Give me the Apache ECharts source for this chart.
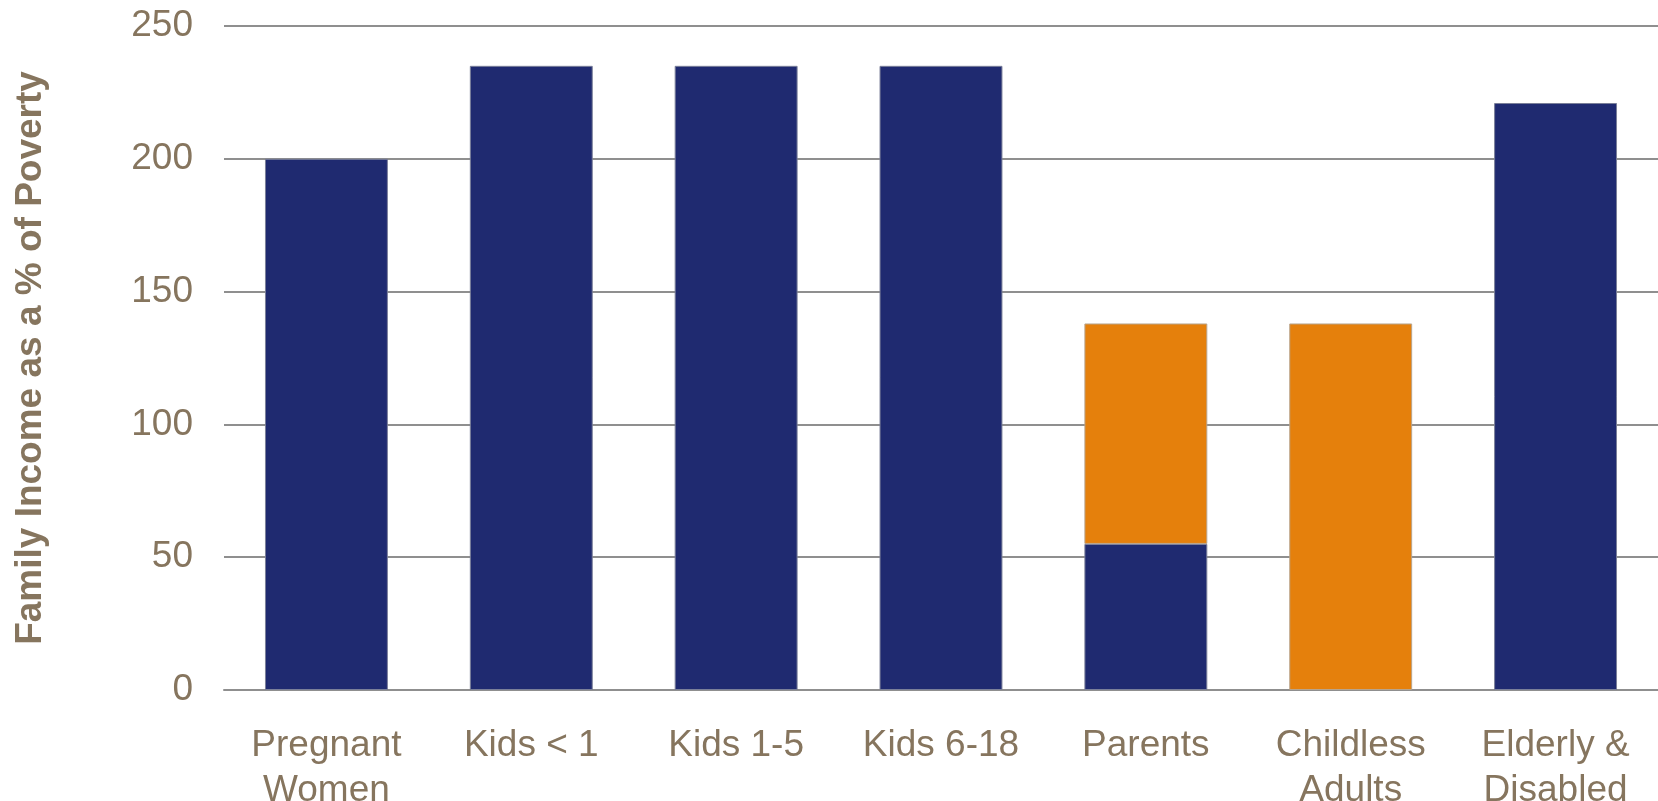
<!DOCTYPE html>
<html>
<head>
<meta charset="utf-8">
<script src="https://cdn.jsdelivr.net/npm/echarts@6/dist/echarts.min.js"></script>
<style>
html,body{margin:0;padding:0;background:#fff;}
#chart{width:1658px;height:801px;}
</style>
</head>
<body>
<div id="chart"></div>
<script>
const categories = ['Pregnant\nWomen', 'Kids < 1', 'Kids 1-5', 'Kids 6-18', 'Parents', 'Childless\nAdults', 'Elderly &\nDisabled'];
const navyValues = [200, 235, 235, 235, 55, null, 221];
const orangeValues = [null, null, null, null, 83, 138, null];
const yTicks = [0, 50, 100, 150, 200, 250];
const yTitle = 'Family Income as a % of Poverty';

const textColor = '#86755e';
const chart = echarts.init(document.getElementById('chart'), null, {renderer: 'canvas'});
chart.setOption({
  animation: false,
  backgroundColor: '#ffffff',
  grid: {left: 224, right: 0, top: 26, bottom: 111, containLabel: false, outerBoundsMode: 'none'},
  xAxis: {
    type: 'category',
    data: categories,
    axisLine: {show: true, lineStyle: {color: '#8f8f8f', width: 2}},
    axisTick: {show: false},
    axisLabel: {
      color: textColor,
      fontFamily: 'Liberation Sans, Arial, sans-serif',
      fontSize: 37,
      lineHeight: 45,
      margin: 33,
      interval: 0
    }
  },
  yAxis: {
    type: 'value',
    min: yTicks[0],
    max: yTicks[yTicks.length - 1],
    interval: 50,
    name: yTitle,
    nameLocation: 'middle',
    nameRotate: 90,
    nameGap: 175,
    nameTextStyle: {
      color: textColor,
      fontFamily: 'Liberation Sans, Arial, sans-serif',
      fontSize: 37,
      fontWeight: 'bold'
    },
    axisLine: {show: false},
    axisTick: {show: false},
    splitLine: {show: true, lineStyle: {color: '#8f8f8f', width: 2}},
    axisLabel: {
      color: textColor,
      fontFamily: 'Liberation Sans, Arial, sans-serif',
      fontSize: 37,
      margin: 31
    }
  },
  series: [
    {
      type: 'bar',
      stack: 'total',
      data: navyValues,
      barWidth: '60%',
      itemStyle: {color: '#1f2a70', borderColor: '#7a7f99', borderWidth: 1}
    },
    {
      type: 'bar',
      stack: 'total',
      data: orangeValues,
      barWidth: '60%',
      itemStyle: {color: '#e5800c', borderColor: '#b8a48c', borderWidth: 1}
    }
  ]
});
</script>
</body>
</html>
